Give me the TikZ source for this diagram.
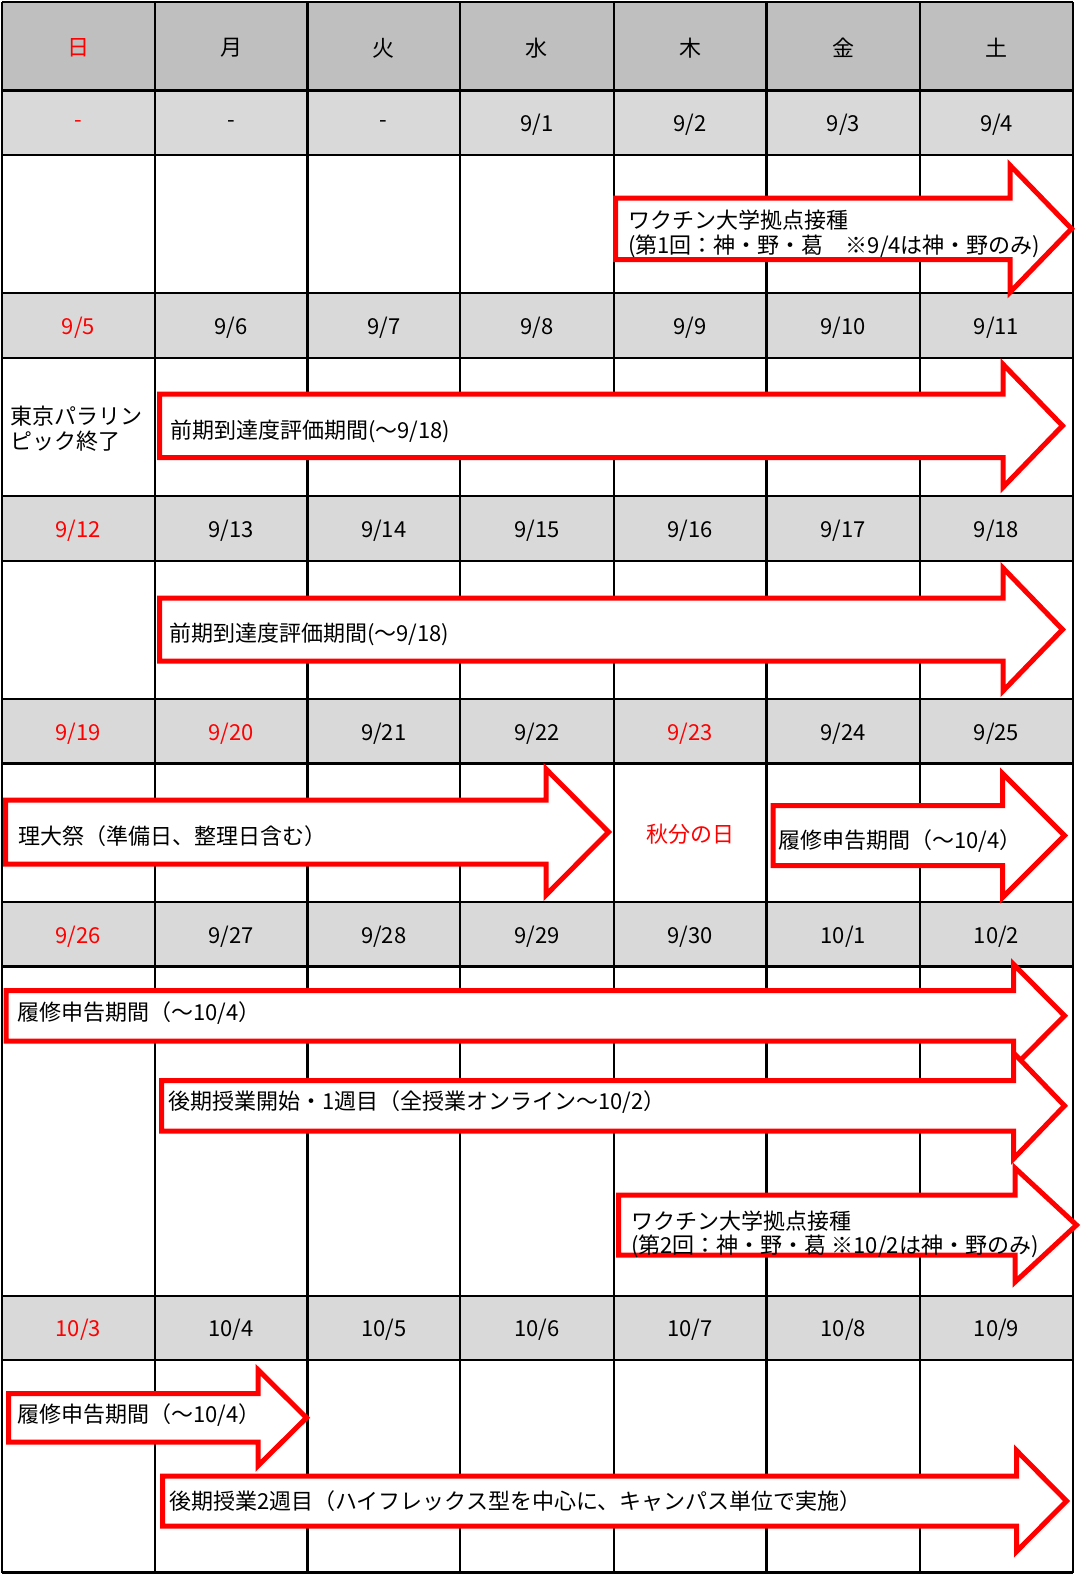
\documentclass[tikz,border=0pt]{standalone}
\usepackage{fontspec}
\setmainfont{Noto Sans CJK JP}
\definecolor{hdrgray}{HTML}{BFBFBF}
\definecolor{dategray}{HTML}{D9D9D9}
\definecolor{redx}{HTML}{FF0000}
\newcommand{\calarrow}[6]{% x0, shaft top, shaft bottom, head base x, half head height, tip x
  \pgfmathsetmacro\tipy{(#2+#3)/2}
  \draw[arrowbox] (#1,#2) -- (#4,#2) -- (#4,\tipy-#5) -- (#6,\tipy) -- (#4,\tipy+#5) -- (#4,#3) -- (#1,#3) -- cycle;}
\newcommand{\dayrow}[9]{%
  \node[datetxt,text=redx] (d#1a) at (78.35,#2) {#3};
  \node[datetxt] (d#1b) at (231.05,#2) {#4};
  \node[datetxt] (d#1c) at (383.75,#2) {#5};
  \node[datetxt] (d#1d) at (536.95,#2) {#6};
  \node[datetxt] (d#1e) at (690.15,#2) {#7};
  \node[datetxt] (d#1f) at (843.35,#2) {#8};
  \node[datetxt] (d#1g) at (996.55,#2) {#9};}
\begin{document}
\begin{tikzpicture}[x=1pt,y=-1pt,
  every node/.style={font=\fontsize{22}{26}\selectfont, inner sep=0pt},
  gridline/.style={line width=2.2pt, black},
  arrowbox/.style={draw=redx, line width=5pt, fill=white, line join=miter},
  lbl/.style={anchor=west, text=black},
  datetxt/.style={anchor=center, text=black}]
\useasboundingbox (0,0) rectangle (1083,1575);
\fill[white] (0,0) rectangle (1083,1575);
% gray rows
\fill[hdrgray] (2,2) rectangle (1072.9,90.5);
\foreach \ya/\yb in {90.5/154.7, 293.3/357.6, 496/560.6, 699/763.5, 902/966.4, 1296/1360}
  \fill[dategray] (2,\ya) rectangle (1072.9,\yb);
% grid
\foreach \x in {2,154.7,307.4,460.1,613.8,766.5,920.2,1072.9}
  \draw[gridline] (\x,2) -- (\x,1572.5);
\foreach \y in {2,90.5,154.7,293.3,357.6,496,560.6,699,763.5,902,966.4,1296,1360,1572.5}
  \draw[gridline] (2,\y) -- (1072.9,\y);
% header and dates
\dayrow{h}{48}{日}{月}{火}{水}{木}{金}{土}
\dayrow{1}{124.5}{-}{-}{-}{9/1}{9/2}{9/3}{9/4}
\dayrow{2}{327.5}{9/5}{9/6}{9/7}{9/8}{9/9}{9/10}{9/11}
\dayrow{3}{530.5}{9/12}{9/13}{9/14}{9/15}{9/16}{9/17}{9/18}
\dayrow{4}{733.5}{9/19}{\color{redx}9/20}{9/21}{9/22}{\color{redx}9/23}{9/24}{9/25}
\dayrow{5}{936.5}{9/26}{9/27}{9/28}{9/29}{9/30}{10/1}{10/2}
\dayrow{6}{1330}{10/3}{10/4}{10/5}{10/6}{10/7}{10/8}{10/9}
% week 1
\calarrow{615.5}{198}{259.5}{1010}{63.5}{1071.5}
\node[lbl] (vac1a) at (628,220) {ワクチン大学拠点接種};
\node[lbl] (vac1b) at (628,246.5) {(第1回：神・野・葛　※9/4は神・野のみ)};
% week 2
\node[lbl] (para1) at (10,416) {東京パラリン};
\node[lbl] (para2) at (10,441) {ピック終了};
\calarrow{159.5}{394}{457.5}{1003}{61.5}{1062.5}
\node[lbl] (eval1) at (170,431) {前期到達度評価期間(～9/18)};
% week 3
\calarrow{159.5}{598}{661}{1003}{61.5}{1062.5}
\node[lbl] (eval2) at (169,634) {前期到達度評価期間(～9/18)};
% week 4
\calarrow{5.5}{800}{864}{546}{63}{608.5}
\node[lbl] (fest) at (18,836) {理大祭（準備日、整理日含む）};
\node[datetxt,text=redx] (shubun) at (690,834) {秋分の日};
\calarrow{773}{805.5}{865.5}{1002.5}{62}{1064.5}
\node[lbl] (reg1) at (778,841) {履修申告期間（～10/4）};
% week 5
\calarrow{6}{990.5}{1041}{1013.5}{51.5}{1064.5}
\node[lbl] (reg2) at (17,1013.5) {履修申告期間（～10/4）};
\calarrow{161.5}{1080.5}{1131}{1013.5}{53}{1064.5}
\node[lbl] (late1) at (168,1102) {後期授業開始・1週目（全授業オンライン～10/2）};
\calarrow{618.5}{1195}{1255}{1015}{57}{1076.5}
\node[lbl] (vac2a) at (631,1221.5) {ワクチン大学拠点接種};
\node[lbl] (vac2b) at (631,1246.5) {(第2回：神・野・葛 ※10/2は神・野のみ)};
% week 6
\calarrow{8.5}{1393.5}{1442}{258}{48}{306.5}
\node[lbl] (reg3) at (17,1415) {履修申告期間（～10/4）};
\calarrow{162.5}{1476}{1526}{1016.5}{50.5}{1066.5}
\node[lbl] (late2) at (169,1501) {後期授業2週目（ハイフレックス型を中心に、キャンパス単位で実施）};
\end{tikzpicture}
\end{document}
